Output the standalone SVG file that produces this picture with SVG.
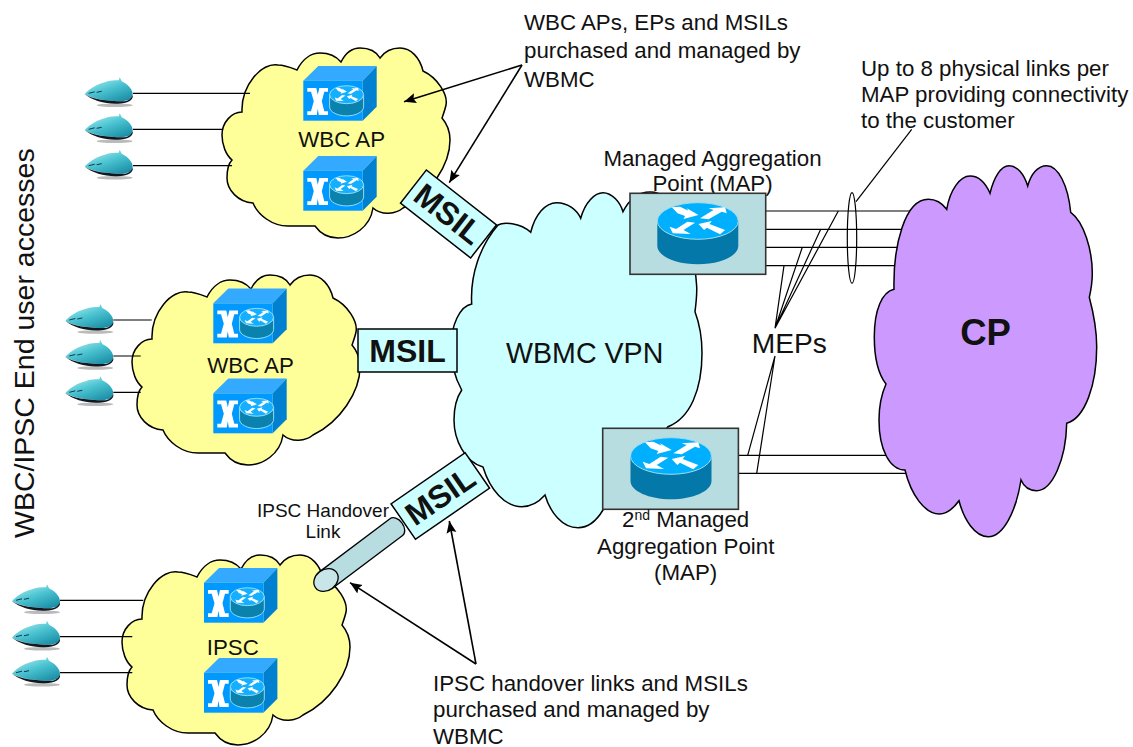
<svg xmlns="http://www.w3.org/2000/svg" xmlns:xlink="http://www.w3.org/1999/xlink" width="1133" height="747" viewBox="0 0 1133 747">
<style>
text{font-family:"Liberation Sans",Arial,sans-serif;font-size:22.3px;fill:#111}
.m{text-anchor:middle}
.cl{stroke:#000;stroke-width:1.5;stroke-linejoin:miter}
.ln{stroke:#000;stroke-width:1.2;fill:none}
.ar{stroke:#000;stroke-width:1.6;fill:none;marker-end:url(#ah)}
.msil{fill:#ccffff;stroke:#000;stroke-width:1.5}
.msilt{font-weight:bold;font-size:32px;text-anchor:middle}
.map{fill:#b8dde1;stroke:#333;stroke-width:1.6}
</style>
<defs>
<marker id="ah" markerUnits="userSpaceOnUse" markerWidth="14" markerHeight="12" refX="12" refY="6" orient="auto"><path d="M0,1L12,6L0,11L2,6Z" fill="#000"/></marker>
<linearGradient id="ug" x1="0.1" y1="0" x2="0.8" y2="1"><stop offset="0" stop-color="#b6f2f2"/><stop offset=".5" stop-color="#4cc4d2"/><stop offset="1" stop-color="#1a8ea6"/></linearGradient>
<path id="cloud" d="M242,112C241,85 262,62 278,65C285,65 292,68 297,70C303,58 312,53 320,53C328,53 336,56 341,62C346,52 353,48 360,48C368,48 376,51 380,58C385,51 393,48 400,48C411,48 420,58 423,71C438,78 448,95 446,105C445,110 443,115 442,118C448,125 450,132 450,140C450,165 430,195 403,208C396,214 382,216 373,208C370,228 352,238 338,238C328,238 320,233 315,226C305,226 295,226 288,226C272,226 258,215 253,203C238,202 227,190 227,178C227,170 229,163 232,160C226,155 222,145 222,135C222,122 232,112 242,112Z"/>
<g id="arrows" fill="#fff">
<path d="M-26,-13.7L-17.7,-14.3L-9.3,-10.3L-11,-12.7L.7,-6L-14.3,-2L-12.7,-5L-20.3,-7.7Z"/>
<path d="M2.3,-2.7L15.7,-11L10.7,-12.7L27.3,-13.7L29,-7.7L24,-9.3L10.7,-1.7Z"/>
<path d="M-2.7,1.7L-14.3,9L-7,13L-25,12.3L-28.3,5.7L-21.7,8L-10.3,.7Z"/>
<path d="M.7,3L14,0L11.7,3L27.3,9L22.3,13.3L9,6.7L6.3,9Z"/>
</g>
<g id="router">
<path d="M-40.5,0V25C-40.5,35 -22,43.3 0,43.3C22,43.3 40.5,35 40.5,25V0Z" fill="#0478a8"/>
<ellipse rx="40.5" ry="18.3" fill="#00b0ff" stroke="#9fdcec" stroke-width="1"/>
<use href="#arrows"/>
</g>
<g id="ap">
<path d="M0,0L15,-14.7H73.4L59.4,0Z" fill="#33aaff"/>
<path d="M59.4,0L73.4,-14.7V26L59.4,40Z" fill="#0080d0"/>
<rect width="59.4" height="40" fill="#0099ff"/>
<path d="M4,7.3H13L14.5,14L16,7.3H24.7V11H21L18.5,20.5L21,30.5H24.7V34.3H15.5L14.5,28L13.5,34.3H4V30.5H7.7L10.5,20.5L7.7,11H4Z" fill="#fff"/>
<g transform="translate(43.3,14) scale(.42,.49)"><path d="M-40.5,0V25C-40.5,35 -22,43.3 0,43.3C22,43.3 40.5,35 40.5,25V0" fill="#0b82ad" stroke="#9fe4f4" stroke-width="2"/><ellipse rx="40.5" ry="18.3" fill="#14b0ff" stroke="#9fe4f4" stroke-width="2"/><use href="#arrows"/></g>
</g>
<g id="user">
<ellipse cx="-18" cy="12" rx="18" ry="1.8" fill="#bbb"/>
<path d="M-48,1C-42,-6 -35,-9 -28,-11C-23,-13 -18,-13 -14,-13L-13,-16L-11,-12C-5,-9 0,-4 0,1C0,5 -3,7 -10,8C-25,8 -38,6 -48,1Z" fill="url(#ug)"/>
<path d="M-48,1C-40,6 -25,8 -10,8C-5,8 -2,6 0,2C1,7 -5,10 -15,10.5C-28,11 -40,7 -48,1Z" fill="#101820"/>
<path d="M-44,0L-38,-1.5M-36,-1L-31,-2" stroke="#12394a" stroke-width="1" fill="none"/>
</g>
</defs>
<rect width="1133" height="747" fill="#fff"/>

<g id="cloud-wbc-ap-1"><use href="#cloud" fill="#ffff99" class="cl"/></g>
<g id="cloud-wbc-ap-2"><use href="#cloud" x="-90" y="227" fill="#ffff99" class="cl"/></g>
<g id="cloud-ipsc"><use href="#cloud" x="-100" y="507" fill="#ffff99" class="cl"/></g>
<g id="cloud-wbmc-vpn">
<path class="cl" fill="#ccffff" d="M471.7,304C470,275 480,246 498,225C503,222 520,222 530.7,232.3C535,215 545,202.7 556.7,202.7C568,202.7 577,210 580.7,218.3C585,202 595,192.7 603,192.7C612,192.7 620,202 623,211.7C630,198 640,192 650,192C672,192 692,220 696.7,286.7C697,295 696,304 695,311.7C700,325 702,340 702,353C702,390 690,418 668,426.7L603,510C597,520 588,527.7 578,527.7C562,527.7 550,512 545,495C538,503 530,506.7 521.7,506.7C505,506.7 490,490 483,467C465,462 454,440 454,420C454,408 457,397 461.7,390C455,378 451,362 451,347C451,325 460,306 471.7,304Z"/>
<text x="584.7" y="362.7" class="m" style="font-size:28.6px">WBMC VPN</text>
</g>

<g id="connectors">
<path class="ln" d="M133,93.3H250M133,129.3H223M133,165.7H232M113.3,320H151.7M113.3,356H140.7M113.3,392.3H140.7M60,600.3H143.3M60,636.7H132.3M60,672.7H132.3"/>
<path class="ln" d="M765.7,211H915M765.7,229.3H915M765.7,247.3H915M765.7,265.7H915M738.3,455.3H915M738.3,473.3H915"/>
<path class="ln" d="M775,328.3L838.3,211M775,328.3L820.7,229.3M775,328.3L802.3,247.3M775,328.3L784,265.7M775,356L747.7,455.3M775,356L756.7,473.3"/>
<path class="ln" d="M856,201.7L911.7,129.3"/>
<ellipse cx="852" cy="238" rx="4.7" ry="45.3" class="ln"/>
<path class="ar" d="M522,65L404,101.7"/>
<path class="ar" d="M522,65L449.3,182.7"/>
<path class="ar" d="M476,664L350,582.7"/>
<path class="ar" d="M476,664L449.3,521"/>
</g>

<g id="cloud-cp">
<path class="cl" fill="#cc99ff" d="M894,289.3C893,245 905,199.3 928.3,199.3C935,199.3 942,203 946.7,209.3C950,190 960,176 970,176C979,176 986,184 990,193.3C994,177 1001,165.7 1009,165.7C1017,165.7 1024,174 1027.7,186C1031,174 1038,165.7 1046.7,165.7C1058,165.7 1068,185 1070.7,212.3C1084,222 1092.3,250 1092.3,273.3C1092.3,282 1091,290 1089.3,297.3C1094,315 1096.7,330 1096.7,346.7C1096.7,385 1085,418 1066.7,423.3C1066,460 1052,490.7 1036.7,490.7C1030,490.7 1024,487 1021,480C1016,512 1003,536.7 988.3,536.7C975,536.7 964,520 959,500.7C953,509 947,514 939.3,514C925,514 911,495 905,470C890,470 879,450 879,420C879,405 882,393 886,384C879,375 874.3,358 874.3,336.7C874.3,310 882,292 894,289.3Z"/>
<text x="985.5" y="345" class="m" style="font-size:36.5px;font-weight:bold">CP</text>
</g>

<g id="map-1">
<text x="712.5" y="166" class="m">Managed Aggregation</text>
<text x="712.5" y="191" class="m">Point (MAP)</text>
<rect x="630" y="193.3" width="135.7" height="81" class="map"/>
<use href="#router" x="697.8" y="221"/>
</g>
<g id="map-2">
<rect x="602.7" y="428.3" width="135.7" height="81" class="map"/>
<use href="#router" x="671" y="456"/>
<text x="685.7" y="527.3" class="m">2<tspan dy="-7" style="font-size:14px">nd</tspan><tspan dy="7"> Managed</tspan></text>
<text x="685.7" y="554" class="m">Aggregation Point</text>
<text x="685.7" y="580" class="m">(MAP)</text>
</g>

<g id="ipsc-link">
<g transform="translate(326,580) rotate(-37)"><path d="M0,-10.5H88A7,10.5 0 0 1 88,10.5H0Z" fill="#b8dde1" stroke="#000" stroke-width="1.3"/><ellipse rx="13" ry="10.5" fill="#c8e5e8" stroke="#000" stroke-width="1.3"/></g>
<text x="323" y="516.7" class="m" style="font-size:19px">IPSC Handover</text>
<text x="323" y="538.3" class="m" style="font-size:19px">Link</text>
</g>

<g id="msil-1"><g transform="translate(448.5,214) rotate(38)"><rect x="-44.5" y="-21" width="89" height="42" class="msil"/><text y="11" class="msilt">MSIL</text></g></g>
<g id="msil-2"><rect x="358" y="329" width="99" height="43" class="msil"/><text x="407.5" y="362" class="msilt">MSIL</text></g>
<g id="msil-3"><g transform="translate(440.3,496) rotate(-34.6)"><rect x="-45" y="-21.5" width="90" height="43" class="msil"/><text y="11" class="msilt">MSIL</text></g></g>

<g id="wbc-ap-1"><use href="#ap" x="303.3" y="80.7"/><text x="341.7" y="147.3" class="m">WBC AP</text><use href="#ap" x="303.3" y="170.7"/></g>
<g id="wbc-ap-2"><use href="#ap" x="213.3" y="303.3"/><text x="250.5" y="373.3" class="m">WBC AP</text><use href="#ap" x="213.3" y="393.3"/></g>
<g id="ipsc"><use href="#ap" x="204" y="582.7"/><text x="232.8" y="655" class="m">IPSC</text><use href="#ap" x="204" y="672.7"/></g>

<g id="users-1"><use href="#user" x="132.7" y="93.3"/><use href="#user" x="132.7" y="129.3"/><use href="#user" x="132.7" y="165.7"/></g>
<g id="users-2"><use href="#user" x="113.3" y="320"/><use href="#user" x="113.3" y="356"/><use href="#user" x="113.3" y="392.3"/></g>
<g id="users-3"><use href="#user" x="60" y="600.3"/><use href="#user" x="60" y="636.7"/><use href="#user" x="60" y="672.7"/></g>

<g id="labels">
<text transform="translate(34,538) rotate(-90)" style="font-size:28.5px">WBC/IPSC End user accesses</text>
<text x="524" y="29.5">WBC APs, EPs and MSILs</text>
<text x="524" y="58">purchased and managed by</text>
<text x="524" y="87">WBMC</text>
<text x="861" y="76">Up to 8 physical links per</text>
<text x="861" y="102">MAP providing connectivity</text>
<text x="861" y="128">to the customer</text>
<text x="751.7" y="353.3" style="font-size:28.2px">MEPs</text>
<text x="433" y="690.5">IPSC handover links and MSILs</text>
<text x="433" y="717">purchased and managed by</text>
<text x="433" y="744">WBMC</text>
</g>
</svg>
